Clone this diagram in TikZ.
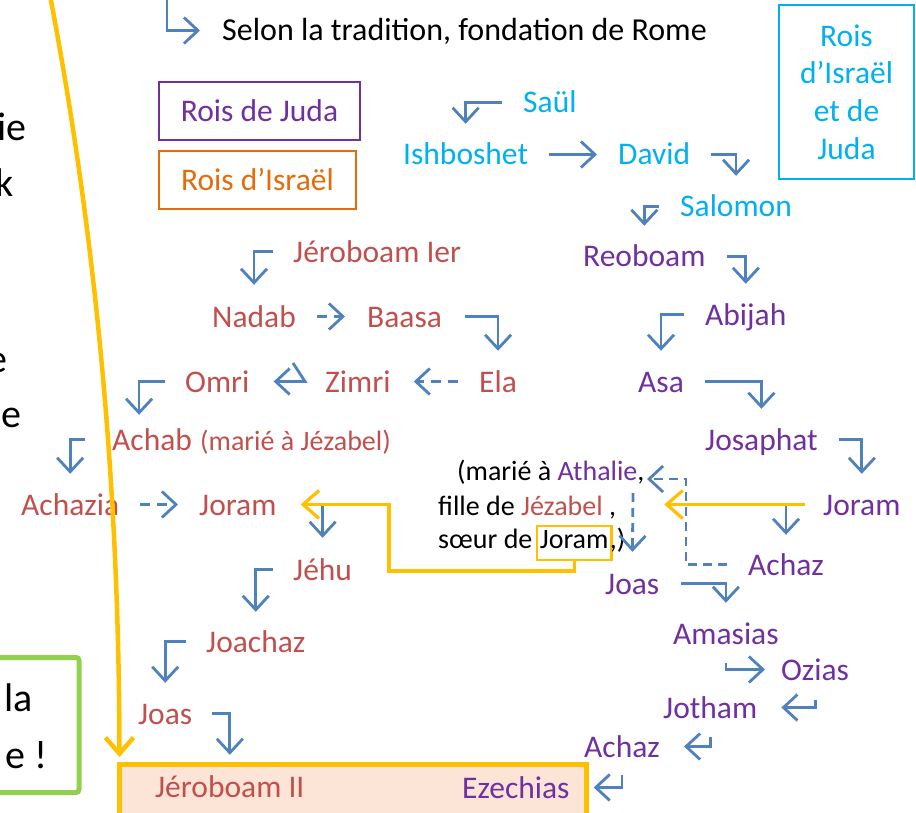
\documentclass[tikz,border=0pt]{standalone}
\usepackage{fontspec}
\setmainfont{Carlito}
\usetikzlibrary{arrows.meta,calc}
\definecolor{judacol}{HTML}{7030A0}
\definecolor{israelcol}{HTML}{C0504D}
\definecolor{unitecol}{HTML}{00B0F0}
\definecolor{orangecol}{HTML}{E46C0A}
\definecolor{arrowcol}{HTML}{4F81BD}
\definecolor{goldcol}{HTML}{FFC000}
\definecolor{greencol}{HTML}{92D050}
\definecolor{peachcol}{HTML}{FCE4D6}

\begin{document}
\begin{tikzpicture}
  [x=1pt,y=-1pt,
   every node/.style={inner sep=0pt,font=\fontsize{31.5}{36}\selectfont},
   king/.style={anchor=base west,text height=25pt,text depth=4pt},
   juda/.style={king,text=judacol},
   israel/.style={king,text=israelcol},
   unite/.style={king,text=unitecol},
   aside/.style={king,font=\fontsize{28}{32}\selectfont},
   cut/.style={anchor=base east,font=\fontsize{40}{48}\selectfont},
   keybox/.style={draw,line width=2pt,minimum height=58pt,text height=25pt,text depth=4pt},
   arr/.style={draw=arrowcol,line width=2.8pt,-{Straight Barb[length=14pt,width=26pt]},shorten <=21pt,shorten >=16pt},
   darr/.style={arr,dash pattern=on 10pt off 7pt},
   yarr/.style={draw=goldcol,line width=3.2pt,-{Straight Barb[length=16pt,width=28pt]}}]
  \useasboundingbox (0,0) rectangle (916,813);

  % boxes
  \node[draw=goldcol,fill=peachcol,line width=5pt,outer sep=0pt,anchor=north west,
        minimum width=466.5pt,minimum height=80pt] (sync) at (119.5,764) {};
  \node[draw=greencol,line width=5pt,rounded corners=3pt,outer sep=0pt,anchor=north east,
        minimum width=119pt,minimum height=135pt] (memo) at (79,657.5) {};
  \node[keybox,draw=judacol,text=judacol,minimum width=201pt] (kjuda) at (259.5,111) {Rois de Juda};
  \node[keybox,draw=orangecol,text=orangecol,minimum width=197pt] (kisrael) at (257.5,180) {Rois d’Israël};
  \node[draw=unitecol,line width=2pt,text=unitecol,align=center,minimum width=135pt,minimum height=174pt,
        font=\fontsize{31.5}{37.7}\selectfont] (kunite) at (846.5,92) {Rois\\d’Israël\\et de\\Juda};

  % cut text at the left edge
  \node[cut] (c1) at (27,141) {ie};
  \node[cut] (c2) at (14,197) {k};
  \node[cut] (c3) at (8,372) {e};
  \node[cut] (c4) at (22,427) {e};
  \node[cut] (c5) at (33,711) {la};
  \node[cut] (c6) at (48,768) {e !};

  \node[king,font=\fontsize{32}{36}\selectfont] (selon) at (222,41) {Selon la tradition, fondation de Rome};

  % united kingdom
  \node[unite] (saul)    at (523,113) {Saül};
  \node[unite] (ishb)    at (403,165) {Ishboshet};
  \node[unite] (david)   at (618,165) {David};
  \node[unite] (salomon) at (680,217) {Salomon};

  % Juda
  \node[juda] (reoboam)  at (583,267) {Reoboam};
  \node[juda] (abijah)   at (705,325) {Abijah};
  \node[juda] (asa)      at (638,392) {Asa};
  \node[juda] (josaphat) at (705,450) {Josaphat};
  \node[juda] (joramJ)   at (823,515) {Joram};
  \node[juda] (achazJ)   at (748,575) {Achaz};
  \node[juda] (joasJ)    at (605,594) {Joas};
  \node[juda] (amasias)  at (673,644) {Amasias};
  \node[juda] (ozias)    at (781,680) {Ozias};
  \node[juda] (jotham)   at (663,718) {Jotham};
  \node[juda] (achazB)   at (584,757) {Achaz};
  \node[juda] (ezechias) at (462,798) {Ezechias};

  % Israel
  \node[israel] (jeroI)   at (293,262) {Jéroboam Ier};
  \node[israel] (nadab)   at (212,327) {Nadab};
  \node[israel] (baasa)   at (367,327) {Baasa};
  \node[israel] (ela)     at (479,392) {Ela};
  \node[israel] (zimri)   at (325,392) {Zimri};
  \node[israel] (omri)    at (185,392) {Omri};
  \node[israel] (achab)   at (112,450) {Achab};
  \node[aside,text=israelcol] (achabnote) at (200,450) {(marié à Jézabel)};
  \node[israel] (achazia) at (21,515) {Achazia};
  \node[israel] (joramI)  at (199,515) {Joram};
  \node[israel] (jehu)    at (293,580) {Jéhu};
  \node[israel] (joachaz) at (206,652) {Joachaz};
  \node[israel] (joasI)   at (138,724) {Joas};
  \node[israel] (jeroII)  at (155,797) {Jéroboam II};

  % Athalie
  \node[aside] (marie1) at (457,480) {(marié à \textcolor{judacol}{Athalie},};
  \node[aside] (marie2) at (438,515) {fille de \textcolor{israelcol}{Jézabel} ,};
  \node[aside] (marie3) at (438,548) {sœur de};
  \node[aside,draw=goldcol,line width=2.5pt,inner xsep=3pt,inner ysep=2pt,text height=20pt,text depth=10pt]
        (jbox) at ([xshift=3pt]marie3.base east) {Joram};
  \node[aside] (marie4) at ([xshift=-3pt]jbox.base east) {,)};

  \coordinate (topin) at (167,-10);
  \coordinate (ztick) at (293,363);
  \coordinate (dbend) at (686,479);
  \coordinate (dtip)  at (647,479);
  \coordinate (dtop)  at (633,493);
  \coordinate (ybend) at (389,571);
  \coordinate (ytop)  at (49,-10);

  \draw[arr,shorten <=0pt,shorten >=22pt] (topin) |- (selon.west);
  \draw[arr] (saul.west) -| (ishb.north);
  \draw[arr,shorten >=21pt] (ishb.east) -- (david.west);
  \draw[arr] (david.east) -| (salomon.north);
  \draw[arr] (salomon.west) -| (reoboam.north);
  \draw[arr] (reoboam.east) -| (abijah.north);
  \draw[arr] (abijah.west) -| (asa.north);
  \draw[arr] (asa.east) -| (josaphat.north);
  \draw[arr] (josaphat.east) -| (joramJ.north);
  \draw[arr,shorten <=28pt,shorten >=15pt] (joramJ.west) -| (achazJ.north);
  \draw[darr,dash pattern=on 9pt off 6pt,shorten >=0pt] (achazJ.west) -| (dbend) -- (dtip);
  \draw[darr,dash pattern=on 9pt off 6pt,shorten <=0pt,shorten >=17pt] (dtop) -- (joasJ.north);
  \draw[arr,shorten <=22pt] (joasJ.east) -| (amasias.north);
  \draw[arr,shorten <=15pt] (amasias.south) |- (ozias.west);
  \draw[arr,shorten <=16pt,shorten >=24pt] (ozias.south) |- (jotham.east);
  \draw[arr,shorten <=15pt,shorten >=24pt] (jotham.south) |- (achazB.east);
  \draw[arr,shorten <=14pt,shorten >=24pt] (achazB.south) |- (ezechias.east);

  \draw[arr,shorten <=20pt,shorten >=17pt] (jeroI.west) -| (nadab.north);
  \draw[darr,shorten >=22pt] (nadab.east) -- (baasa.west);
  \draw[arr,shorten <=23pt] (baasa.east) -| (ela.north);
  \draw[darr,shorten >=23pt] (ela.west) -- (zimri.east);
  \draw[arr,shorten <=0pt,shorten >=24pt] (ztick) -- ([xshift=-20pt]zimri.west) -- (omri.east);
  \draw[arr,shorten <=20pt,shorten >=10pt] (omri.west) -| ([xshift=-13pt]achab.north);
  \draw[arr,shorten <=27pt] (achab.west) -| (achazia.north);
  \draw[darr,shorten >=21pt] (achazia.east) -- (joramI.west);
  \draw[arr,shorten <=37pt,shorten >=17pt] (joramI.east) -| (jehu.north);
  \draw[arr,shorten <=20pt,shorten >=15pt] (jehu.west) -| (joachaz.north);
  \draw[arr,shorten <=20pt] (joachaz.west) -| (joasI.north);
  \draw[arr,shorten <=20pt,shorten >=17pt] (joasI.east) -| (jeroII.north);

  % yellow links
  \draw[yarr,shorten <=18pt,shorten >=48pt] (joramJ.west) -- (marie2.east);
  \draw[yarr,shorten >=24pt] (jbox.south) |- (ybend) |- (joramI.east);
  \draw[yarr,line width=4.5pt,shorten >=7pt] (ytop) .. controls (95,230) and (119,480) .. (sync.north west);

\end{tikzpicture}
\end{document}
